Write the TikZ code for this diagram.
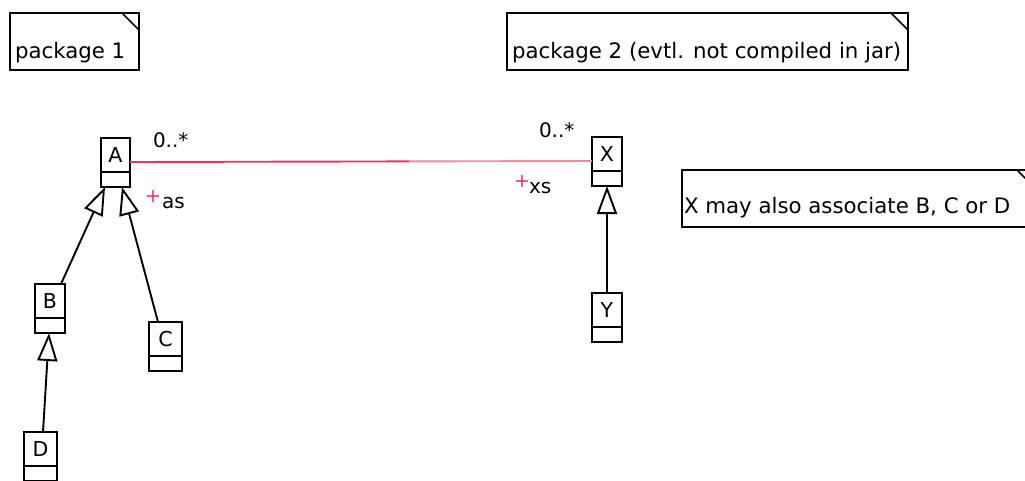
\documentclass[tikz,border=0pt]{standalone}
\usepackage{fontspec}
\setmainfont{DejaVu Sans}
\usetikzlibrary{arrows.meta,calc}

\definecolor{assocdark}{HTML}{E23A62}
\definecolor{assoclight}{HTML}{EE8CA2}
\definecolor{plusred}{HTML}{F0306A}

\tikzset{
  every node/.style={inner sep=0pt, outer sep=0pt},
  notebox/.style={draw, anchor=north west, line width=1.6pt},
  notetext/.style={anchor=base west, font=\fontsize{21.3}{25}\selectfont},
  clstop/.style={draw, anchor=north, minimum height=34pt, line width=1.9pt,
                 font=\fontsize{20.5}{24}\selectfont},
  clsbot/.style={draw, anchor=north, minimum height=15pt, line width=1.9pt},
  gen/.style={line width=1.9pt, -{Triangle[open, length=28pt, width=20pt, line width=1.9pt]}},
  assoc/.style={line width=1.9pt},
  multi/.style={anchor=base west, font=\fontsize{20}{24}\selectfont},
  rolemark/.style={anchor=center, text=plusred, font=\fontsize{19}{22}\selectfont},
}

\begin{document}
\begin{tikzpicture}[x=1pt, y=-1pt]
  \useasboundingbox (0,0) rectangle (1025,480);
  \clip (0,0) rectangle (1025,480);
  \fill[white] (0,0) rectangle (1025,480);

  % notes with a folded corner
  \node[notebox, minimum width=129pt, minimum height=57pt] (p1) at (10,13) {};
  \node[notebox, minimum width=401pt, minimum height=57pt] (p2) at (507,13) {};
  \node[notebox, minimum width=352pt, minimum height=57pt] (n3) at (682,170) {};
  \foreach \n in {p1,p2,n3}
    \draw[line width=1.6pt] ([xshift=-17pt]\n.north east) -- ([yshift=-17pt]\n.north east);
  \node[notetext] (p1t) at ([xshift=5pt, yshift=12pt]p1.south west) {package 1};
  \node[notetext] (p2t) at ([xshift=5pt, yshift=12pt]p2.south west) {package 2 (evtl. not compiled in jar)};
  \node[notetext] (n3t) at ([xshift=2pt, yshift=14pt]n3.south west) {X may also associate B, C or D};

  % classes: name compartment and empty attribute compartment
  \node[clstop, minimum width=29pt] (A) at (115.5,138) {A};
  \node[clsbot, minimum width=29pt] (Ab) at (A.south) {};
  \node[clstop, minimum width=30pt] (B) at (50,284) {B};
  \node[clsbot, minimum width=30pt] (Bb) at (B.south) {};
  \node[clstop, minimum width=33pt] (C) at (165.5,322) {C};
  \node[clsbot, minimum width=33pt] (Cb) at (C.south) {};
  \node[clstop, minimum width=33pt] (D) at (40.5,432) {D};
  \node[clsbot, minimum width=33pt] (Db) at (D.south) {};
  \node[clstop, minimum width=30pt] (X) at (607,137) {X};
  \node[clsbot, minimum width=30pt] (Xb) at (X.south) {};
  \node[clstop, minimum width=30pt] (Y) at (607,293) {Y};
  \node[clsbot, minimum width=30pt] (Yb) at (Y.south) {};

  % generalizations
  \draw[gen] ([xshift=11pt]B.north) -- ([xshift=-10.5pt]Ab.south);
  \draw[gen] ([xshift=-7.5pt]C.north) -- ([xshift=6.5pt]Ab.south);
  \draw[gen] ([xshift=2.5pt]D.north) -- ([xshift=-1pt]Bb.south);
  \draw[gen] (Y.north) -- (Xb.south);

  % association A -- X
  \coordinate (aend) at ([yshift=-7pt]A.east);
  \coordinate (xend) at ([yshift=-7pt]X.west);
  \coordinate (amid) at ($(aend)!0.605!(xend)$);
  \draw[assoc, assocdark] (aend) -- (amid);
  \draw[assoc, assoclight] (amid) -- (xend);

  % association end labels
  \node[multi] (ma) at (153,147) {0..*};
  \node[multi] (mx) at (539,137) {0..*};
  \node[rolemark] (pa) at (153,197) {+};
  \node[multi] (ra) at (162,208) {as};
  \node[rolemark] (px) at (522,182) {+};
  \node[multi] (rx) at (529,193) {xs};
\end{tikzpicture}
\end{document}
